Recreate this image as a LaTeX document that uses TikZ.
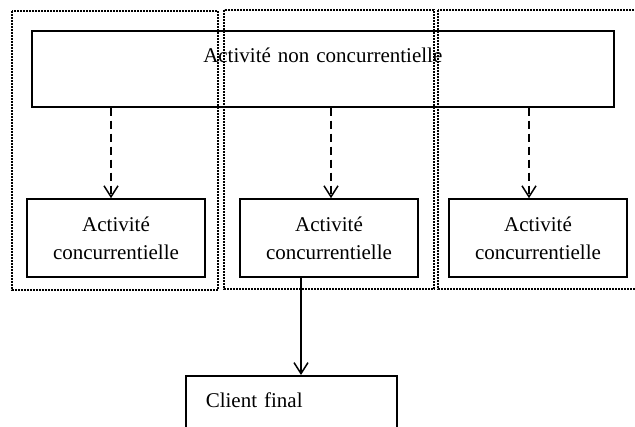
\documentclass[tikz,border=0pt]{standalone}
\usepackage{fontspec}
\setmainfont{Liberation Serif}
\usetikzlibrary{arrows.meta}

\tikzset{
  box/.style={draw, line width=1.6pt, inner sep=0pt, font=\fontsize{21}{28}\selectfont},
  activity/.style={box, minimum width=178pt, minimum height=78pt, align=center},
  lane/.style={line width=1.8pt, dash pattern=on 1.6pt off 1.4pt},
  flow/.style={line width=1.5pt, -{Straight Barb[length=11pt,width=14pt]}},
  waitflow/.style={flow, dash pattern=on 8pt off 5pt},
}

\begin{document}
\begin{tikzpicture}[x=1pt,y=-1pt]
  \useasboundingbox (0,0) rectangle (635,427);
  \clip (0,0) rectangle (635,427);

  \draw[lane] (12,11) rectangle (218,290);
  \draw[lane] (224,10) rectangle (434,289);
  \draw[lane] (438,10) rectangle (650,289);

  \node[box, anchor=north west, text width=542pt, inner xsep=20pt,
        text height=32pt, text depth=44pt, align=center] (nonConc) at (31,30)
        {Activit\'e non concurrentielle};
  \node[activity] (concLeft) at (116,238) {Activit\'e\\concurrentielle};
  \node[activity] (concMid) at (329,238) {Activit\'e\\concurrentielle};
  \node[activity] (concRight) at (538,238) {Activit\'e\\concurrentielle};
  \node[box, anchor=north west, text width=171pt, inner xsep=20pt,
        text height=32pt, text depth=44pt, align=left] (client) at (185,375)
        {Client final};

  \draw[waitflow] ([xshift=-5pt]concLeft.north |- nonConc.south) -- ([xshift=-5pt]concLeft.north);
  \draw[waitflow] ([xshift=2pt]concMid.north |- nonConc.south) -- ([xshift=2pt]concMid.north);
  \draw[waitflow] ([xshift=-9pt]concRight.north |- nonConc.south) -- ([xshift=-9pt]concRight.north);
  \draw[flow] ([xshift=-28pt]concMid.south) -- ([xshift=-28pt]concMid.south |- client.north);
\end{tikzpicture}
\end{document}
